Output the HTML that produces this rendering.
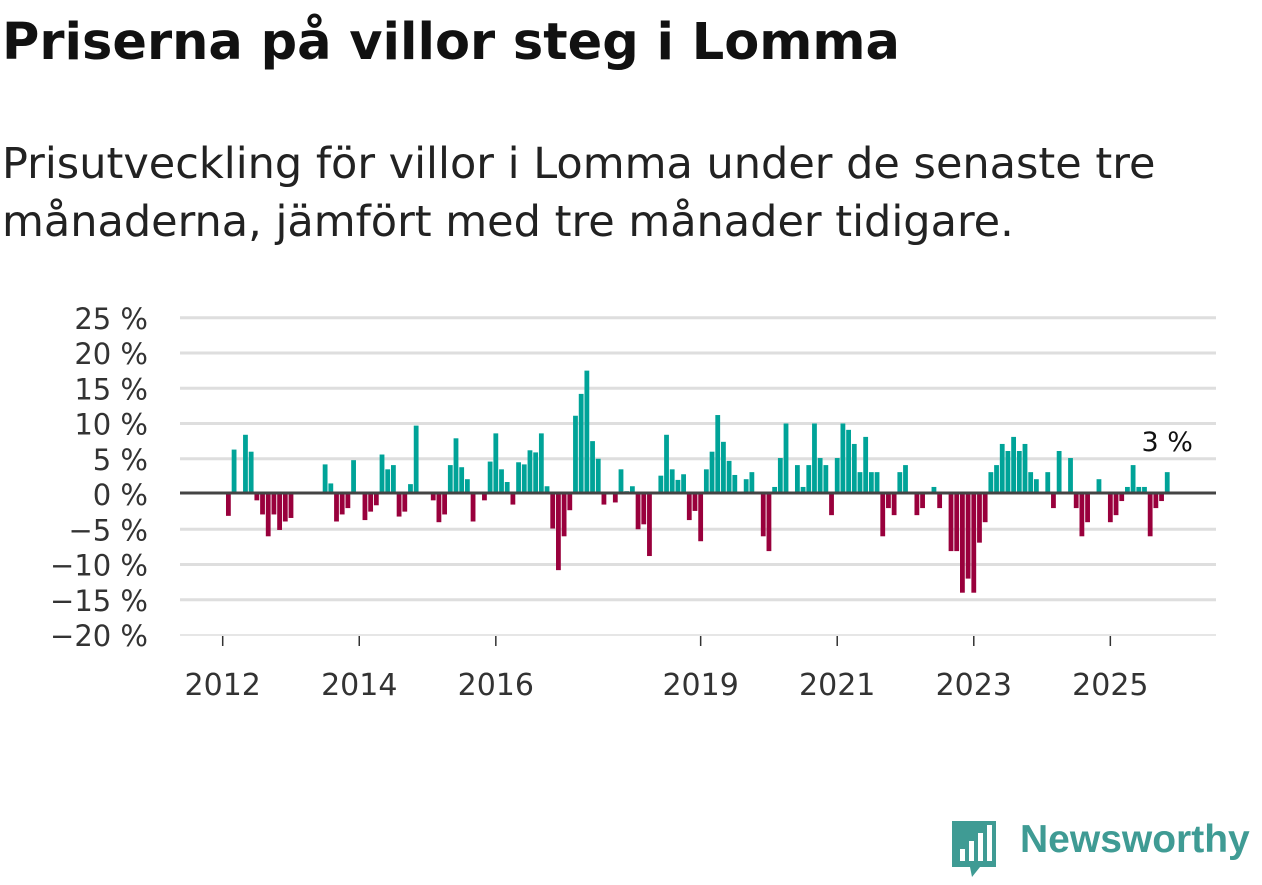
<!DOCTYPE html>
<html><head><meta charset="utf-8">
<style>
body{margin:0;width:1262px;height:879px;background:#fff;overflow:hidden;font-family:"DejaVu Sans","Liberation Sans",sans-serif;}
h1{position:absolute;left:2px;top:8px;margin:0;font-size:51px;line-height:70px;font-weight:bold;color:#111;font-family:"DejaVu Sans",sans-serif;}
.sub{position:absolute;left:2px;top:135px;margin:0;font-size:43px;line-height:58px;color:#222;width:1230px;font-family:"DejaVu Sans",sans-serif;}
svg{position:absolute;left:0;top:0;}
.logo{position:absolute;left:1020px;top:818px;font-size:39px;font-weight:bold;color:#3f9b94;font-family:"Liberation Sans",sans-serif;}
</style></head><body>
<h1>Priserna på villor steg i Lomma</h1>
<p class="sub">Prisutveckling för villor i Lomma under de senaste tre månaderna, jämfört med tre månader tidigare.</p>
<svg width="1262" height="879">
<g id="grid"></g>
<g id="bars"></g>
<g id="axes"></g>
</svg>
<div class="logo">Newsworthy</div>
<svg width="60" height="70" style="left:948px;top:815px">
<path d="M4 6 h44 v46 h-16 l-8 10 l-2-10 h-18 z" fill="#3f9b94"/>
<rect x="12" y="34" width="5" height="12" fill="#fff"/><rect x="21" y="26" width="5" height="20" fill="#fff"/><rect x="30" y="18" width="5" height="28" fill="#fff"/><rect x="39" y="10" width="5" height="36" fill="#fff"/>
</svg>
<script>
const startYear = 2012;
const values = [0,-3.1,6.3,0,8.4,6.0,-0.9,-2.9,-6.0,-2.9,-5.1,-3.9,-3.4,0,0,0,0,0,4.2,1.5,-3.9,-2.9,-2.0,4.8,0,-3.7,-2.5,-1.6,5.6,3.5,4.1,-3.2,-2.5,1.4,9.7,0,0,-0.9,-4.0,-2.9,4.1,7.9,3.8,2.1,-3.9,0,-0.9,4.6,8.6,3.5,1.7,-1.5,4.5,4.2,6.2,5.9,8.6,1.1,-4.9,-10.8,-6.0,-2.3,11.1,14.2,17.5,7.5,5.0,-1.5,0,-1.2,3.5,0.4,1.1,-5.0,-4.3,-8.8,0,2.6,8.4,3.5,2.0,2.8,-3.7,-2.4,-6.7,3.5,6.0,11.2,7.4,4.7,2.7,0,2.1,3.1,0,-6.0,-8.1,1.0,5.1,10.0,0,4.1,1.0,4.1,10.0,5.1,4.1,-3.0,5.1,10.0,9.1,7.1,3.1,8.1,3.1,3.1,-6.0,-2.0,-3.0,3.1,4.1,0,-3.0,-2.0,0,1.0,-2.0,0,-8.1,-8.1,-14.0,-12.0,-14.0,-6.9,-4.0,3.1,4.1,7.1,6.1,8.1,6.1,7.1,3.1,2.1,0,3.1,-2.0,6.1,0,5.1,-2.0,-6.0,-4.0,0,2.1,0,-4.0,-3.0,-1.0,1.0,4.1,1.0,1.0,-6.0,-2.0,-1.0,3.1];
const yTicks = [25,20,15,10,5,0,-5,-10,-15,-20];
const xTickYears = [2012,2014,2016,2019,2021,2023,2025];
const lastLabel = "3 %";
const NS="http://www.w3.org/2000/svg";
function y(v){return 494 - v*7.05;}
function xc(i){return 222.7 + i*5.69;}
function mk(t,a){const e=document.createElementNS(NS,t);for(const k in a)e.setAttribute(k,a[k]);return e;}
const grid=document.getElementById('grid'),bars=document.getElementById('bars'),axes=document.getElementById('axes');
yTicks.forEach(v=>{
 if(v!==0){const l=mk('line',{x1:180,x2:1216,y1:y(v),y2:y(v),stroke:'#dedede','stroke-width':v===-20?1.5:3});
 
 
 grid.appendChild(l);}
 const t=mk('text',{x:148,y:y(v)+11,'text-anchor':'end','font-size':29,fill:'#333','font-family':'DejaVu Sans, sans-serif'});
 t.textContent=(v<0?'\u2212'+(-v):v)+' %';
 
 
 axes.appendChild(t);
});
values.forEach((v,i)=>{
 if(v===0)return;
 const r=mk('rect',{x:xc(i)-2.4,width:4.8,y:v>0?y(v):494,height:Math.abs(v)*7.05,fill:v>0?'#00a398':'#99003c'});
 
 
 bars.appendChild(r);
});
const z=mk('line',{x1:180,x2:1216,y1:493,y2:493,stroke:'#444','stroke-width':3});


axes.appendChild(z);
xTickYears.forEach(yr=>{
 const xx=xc((yr-startYear)*12);
 const tk=mk('line',{x1:xx,x2:xx,y1:636,y2:646,stroke:'#333','stroke-width':1.5});
 
 
 axes.appendChild(tk);
 const t=mk('text',{x:xx,y:695,'text-anchor':'middle','font-size':30,fill:'#333','font-family':'DejaVu Sans, sans-serif'});
 t.textContent=yr;
 
 
 axes.appendChild(t);
});
const li=values.length-1;
const lab=mk('text',{x:xc(li),y:451,'text-anchor':'middle','font-size':27,fill:'#111',stroke:'#fff','stroke-width':6,'paint-order':'stroke','font-family':'DejaVu Sans, sans-serif'});
lab.textContent=lastLabel;


axes.appendChild(lab);
</script>
</body></html>
